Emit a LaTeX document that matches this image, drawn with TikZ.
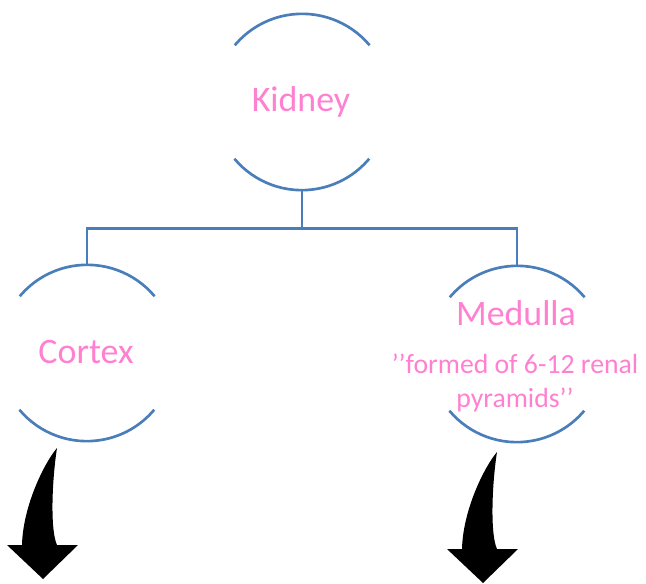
\documentclass[tikz,border=0pt]{standalone}
\usepackage{fontspec}
\setmainfont{Carlito}
\usepackage{tikz}
\usetikzlibrary{calc}
\definecolor{ringEdge}{HTML}{4A7EBB}
\definecolor{txtCol}{HTML}{FF80D0}
\tikzset{
  ring/.style={circle, minimum size=132pt, inner sep=0pt},
  rarc/.style={draw=ringEdge, line width=2pt},
  link/.style={draw=ringEdge, line width=2pt},
  lbl/.style={text=txtCol, font=\fontsize{26.9}{32}\selectfont, inner sep=0pt, anchor=base},
  sublbl/.style={text=txtCol, font=\fontsize{20.8}{25}\selectfont, inner sep=0pt, anchor=base},
  barrow/.style={fill=black},
}
\begin{document}
\begin{tikzpicture}[x=0.75pt, y=0.75pt]
  \useasboundingbox (0,0) rectangle (646,-584);
  % --- rings ---
  \node[ring] (kid) at (302,-102) {};
  \node[ring] (cor) at (87,-353) {};
  \node[ring] (med) at (517,-354) {};
  \foreach \r in {kid,cor,med} {
    \draw[rarc] (\r.40) arc[start angle=40, end angle=140, radius=66pt];
    \draw[rarc] (\r.220) arc[start angle=220, end angle=320, radius=66pt];
  }
  % --- labels ---
  \node[lbl] (kidT) at (301,-112) {Kidney};
  \node[lbl] (corT) at (86,-364) {Cortex};
  \node[lbl] (medT) at (516,-326) {Medulla};
  \node[sublbl] (medS1) at (515,-374) {’’formed of 6-12 renal};
  \node[sublbl] (medS2) at (515,-407) {pyramids’’};
  % --- tree connector ---
  \draw[link] (kid.south) -- ++(0,-38) coordinate (fork) -| (cor.north);
  \draw[link] (fork) -| (med.north);
  % --- curved block arrows ---
  \foreach \dx/\dy in {0/0,440/4} {
    \begin{scope}[shift={(\dx,-\dy)}]
      \fill[barrow] (57,-448) .. controls (52,-480) and (50,-530) .. (57,-545)
        -- (78,-545) -- (43,-579) -- (7,-545) -- (22,-545)
        .. controls (23,-505) and (45,-462) .. (57,-448) -- cycle;
    \end{scope}
  }
\end{tikzpicture}
\end{document}
